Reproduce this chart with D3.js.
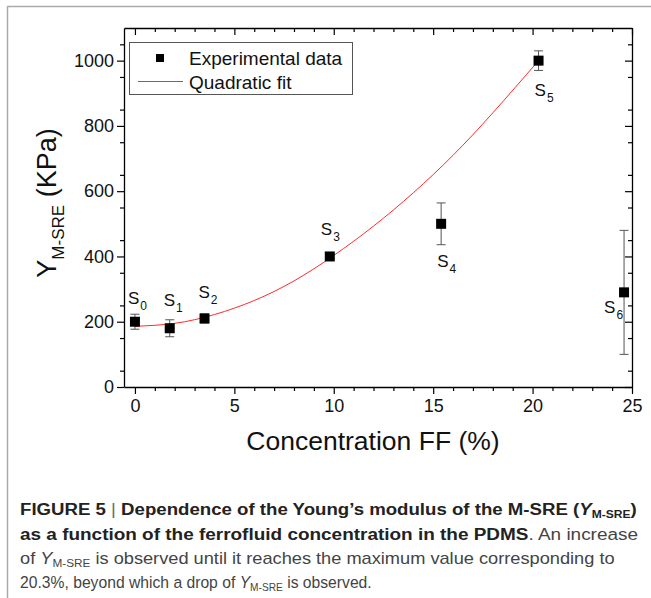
<!DOCTYPE html>
<html><head><meta charset="utf-8">
<script src="https://cdn.jsdelivr.net/npm/d3@7"></script>
<style>
html,body{margin:0;padding:0;background:#fff;}
svg{display:block;font-family:"Liberation Sans",Arial,sans-serif;}
</style></head>
<body><svg id="c" width="651" height="598"></svg>
<script>
// ---- data ----
const sampleNames = ["0","1","2","3","4","5","6"];
const concentration = [0, 1.75, 3.5, 9.8, 15.4, 20.3, 24.6];
const modulus = [200, 180, 210, 400, 500, 1000, 290];
const modulusErr = [23, 26, 14, 6, 64, 30, 190];
const fitX = [0, 2, 4, 6, 8, 10, 12, 14, 16, 18, 20.3];
const fitY = [186, 195, 222, 265, 325, 403, 493, 595, 710, 840, 1000];
const xTicks = [0, 5, 10, 15, 20, 25];
const yTicks = [0, 200, 400, 600, 800, 1000];

// ---- layout ----
const svg = d3.select("#c");
const L = 124, R = 632, T = 28, B = 387;
const x = d3.scaleLinear().domain([-0.55, 25]).range([L, R]);
const y = d3.scaleLinear().domain([0, 1100]).range([B, T]);

// frame lines
svg.append("line").attr("x1",7.5).attr("x2",651).attr("y1",6.5).attr("y2",6.5).attr("stroke","#aaa").attr("stroke-width",1.5);
svg.append("line").attr("x1",7.5).attr("x2",7.5).attr("y1",6).attr("y2",598).attr("stroke","#aaa").attr("stroke-width",1.5);

const xMinor = d3.range(0, 26, 1).filter(v => v % 5 !== 0);
const yMinor = d3.range(50, 1100, 100);

function styleAxis(g){
  g.selectAll("path").attr("stroke","#000").attr("stroke-width",1.3);
  g.selectAll("line").attr("stroke","#000").attr("stroke-width",1.2);
  g.selectAll("text").attr("font-size",18).attr("fill","#111").attr("font-family","'Liberation Sans',Arial,sans-serif");
}
// bottom
svg.append("g").attr("transform",`translate(0,${B})`)
  .call(d3.axisBottom(x).tickValues(xTicks).tickSize(7).tickPadding(5).tickSizeOuter(0)).call(styleAxis);
svg.append("g").attr("transform",`translate(0,${B})`)
  .call(d3.axisBottom(x).tickValues(xMinor).tickSize(4).tickFormat("").tickSizeOuter(0))
  .call(g=>g.select("path").remove()).call(styleAxis);
// left
svg.append("g").attr("transform",`translate(${L},0)`)
  .call(d3.axisLeft(y).tickValues(yTicks).tickFormat(d3.format("d")).tickSize(7).tickPadding(3).tickSizeOuter(0)).call(styleAxis);
svg.append("g").attr("transform",`translate(${L},0)`)
  .call(d3.axisLeft(y).tickValues(yMinor).tickSize(4).tickFormat("").tickSizeOuter(0))
  .call(g=>g.select("path").remove()).call(styleAxis);
// top (inward)
svg.append("g").attr("transform",`translate(0,${T})`)
  .call(d3.axisTop(x).tickValues(xTicks).tickSize(-7).tickFormat("").tickSizeOuter(0)).call(styleAxis);
svg.append("g").attr("transform",`translate(0,${T})`)
  .call(d3.axisTop(x).tickValues(xMinor).tickSize(-4).tickFormat("").tickSizeOuter(0))
  .call(g=>g.select("path").remove()).call(styleAxis);
// right (inward)
svg.append("g").attr("transform",`translate(${R},0)`)
  .call(d3.axisRight(y).tickValues(yTicks).tickSize(-7).tickFormat("").tickSizeOuter(0)).call(styleAxis);
svg.append("g").attr("transform",`translate(${R},0)`)
  .call(d3.axisRight(y).tickValues(yMinor).tickSize(-4).tickFormat("").tickSizeOuter(0))
  .call(g=>g.select("path").remove()).call(styleAxis);

// fit curve
const fit = fitX.map((v,i)=>[v, fitY[i]]);
svg.append("path").datum(fit)
  .attr("d", d3.line().x(d=>x(d[0])).y(d=>y(d[1])).curve(d3.curveNatural))
  .attr("fill","none").attr("stroke","#ff2a2a").attr("stroke-width",1);

// error bars
const pts = concentration.map((c,i)=>({c, v:modulus[i], e:modulusErr[i], n:sampleNames[i]}));
const eb = svg.append("g").attr("stroke","#555").attr("stroke-width",1);
pts.forEach(p=>{
  eb.append("line").attr("x1",x(p.c)).attr("x2",x(p.c)).attr("y1",y(p.v-p.e)).attr("y2",y(p.v+p.e));
  [p.v-p.e, p.v+p.e].forEach(v=>eb.append("line").attr("x1",x(p.c)-4.5).attr("x2",x(p.c)+4.5).attr("y1",y(v)).attr("y2",y(v)));
});
// markers
svg.append("g").selectAll("rect").data(pts).join("rect")
  .attr("x",d=>x(d.c)-5).attr("y",d=>y(d.v)-5).attr("width",10).attr("height",10).attr("fill","#000");

// sample labels (pixel offsets from marker)
const labelOffsets = [[-7,-18],[-6,-22],[-6,-20],[-9,-21],[-4,43],[-4,35],[-20,21]];
pts.forEach((p,i)=>{
  const t = svg.append("text").attr("x",x(p.c)+labelOffsets[i][0]).attr("y",y(p.v)+labelOffsets[i][1])
    .attr("font-size",17).attr("fill","#111");
  t.append("tspan").text("S");
  t.append("tspan").attr("dy",6).attr("dx",1).attr("font-size",12).text(p.n);
});

// legend
const lg = svg.append("g");
lg.append("rect").attr("x",129.5).attr("y",42.5).attr("width",223).attr("height",52).attr("fill","#fff").attr("stroke","#555").attr("stroke-width",1);
lg.append("rect").attr("x",156).attr("y",54).attr("width",8).attr("height",8).attr("fill","#000");
lg.append("text").attr("x",189).attr("y",65).attr("font-size",19).attr("fill","#111").text("Experimental data");
lg.append("line").attr("x1",138).attr("x2",183).attr("y1",81.5).attr("y2",81.5).attr("stroke","#ff2a2a").attr("stroke-width",1.2);
lg.append("text").attr("x",189).attr("y",89).attr("font-size",19).attr("fill","#111").text("Quadratic fit");

// axis titles
svg.append("text").attr("x",373).attr("y",450).attr("text-anchor","middle").attr("font-size",26.5).attr("fill","#111").text("Concentration FF (%)");
const yt = svg.append("text").attr("transform","translate(56,203) rotate(-90)").attr("text-anchor","middle").attr("font-size",27).attr("fill","#111");
yt.append("tspan").text("Y");
yt.append("tspan").attr("font-size",17).attr("dy",8).text("M-SRE");
yt.append("tspan").attr("dy",-8).text(" (KPa)");

// caption: each line scaled horizontally to the reference width
const cap = svg.append("g").attr("font-size",17);
function line(yy, len){
  const g = cap.append("g");
  const t = g.append("text").attr("x",0).attr("y",0);
  t.node().__target = [yy, len, g];
  return t;
}
let t1 = line(515, 617).attr("fill","#222").attr("font-weight","bold");
t1.append("tspan").text("FIGURE 5 ");
t1.append("tspan").attr("font-weight","normal").attr("fill","#666").text("|");
t1.append("tspan").text(" Dependence of the Young’s modulus of the M-SRE (");
t1.append("tspan").attr("font-style","italic").text("Y");
t1.append("tspan").attr("font-size",11).attr("dy",3).text("M-SRE");
t1.append("tspan").attr("dy",-3).text(")");
let t2 = line(540, 618).attr("fill","#222");
t2.append("tspan").attr("font-weight","bold").text("as a function of the ferrofluid concentration in the PDMS");
t2.append("tspan").attr("fill","#444").text(". An increase");
let t3 = line(564, 595).attr("fill","#444");
t3.append("tspan").text("of ");
t3.append("tspan").attr("font-style","italic").text("Y");
t3.append("tspan").attr("font-size",11).attr("dy",3).text("M-SRE");
t3.append("tspan").attr("dy",-3).text(" is observed until it reaches the maximum value corresponding to");
let t4 = line(588, 352).attr("fill","#444");
t4.append("tspan").text("20.3%, beyond which a drop of ");
t4.append("tspan").attr("font-style","italic").text("Y");
t4.append("tspan").attr("font-size",11).attr("dy",3).text("M-SRE");
t4.append("tspan").attr("dy",-3).text(" is observed.");
[t1,t2,t3,t4].forEach(t=>{
  const [yy,len,g] = t.node().__target;
  const w = t.node().getBBox().width;
  g.attr("transform",`translate(20,${yy}) scale(${len/w},1)`);
});
</script></body></html>
